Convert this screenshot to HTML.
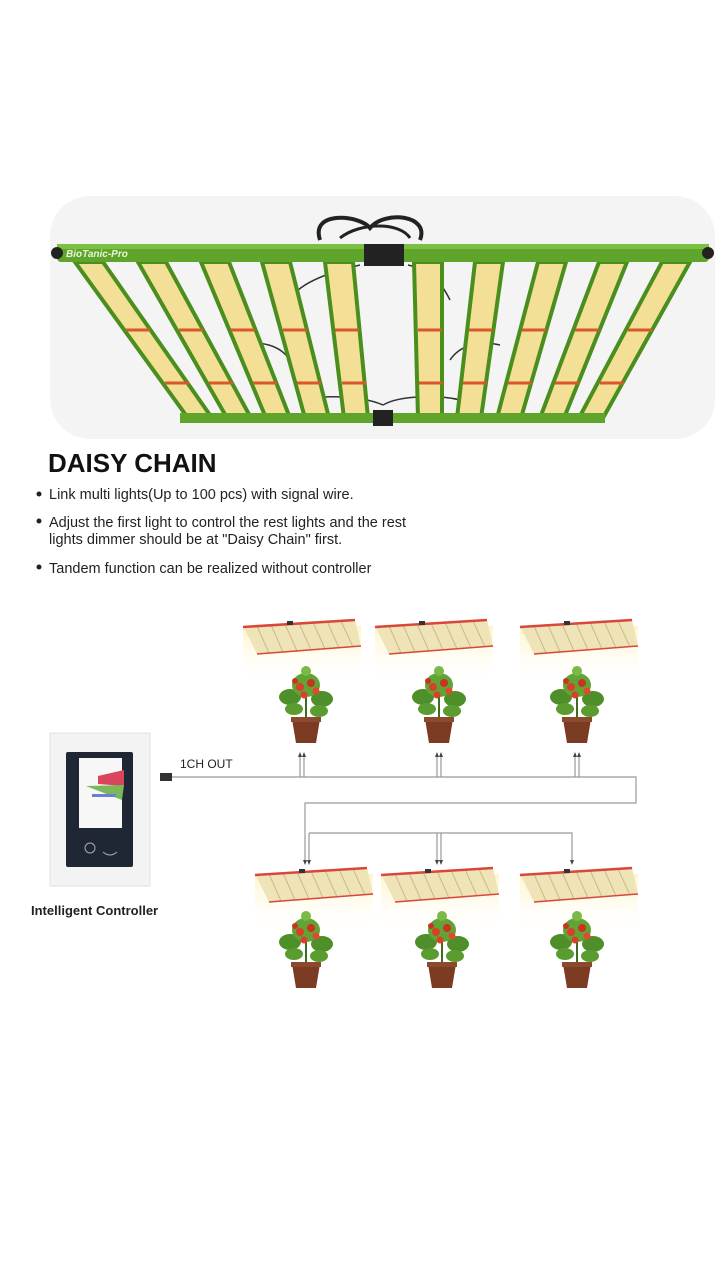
<!DOCTYPE html>
<html><head><meta charset="utf-8"><style>
body{margin:0;background:#fff;width:720px;height:1280px;overflow:hidden;font-family:"Liberation Sans",sans-serif}
svg{position:absolute;left:0;top:0}
</style></head><body>
<svg width="720" height="1280" viewBox="0 0 720 1280">
<defs>
<linearGradient id="glow" x1="0" y1="0" x2="0" y2="1"><stop offset="0" stop-color="#fff4c8"/><stop offset="1" stop-color="#fff" stop-opacity="0"/></linearGradient>
<g id="minilight">
<rect x="0" y="8" width="118" height="60" fill="url(#glow)"/>
<polygon points="0,8 112,2 118,28 14,36" fill="#efe3b8"/>
<g stroke="#c9b98a" stroke-width="1">
<line x1="14" y1="8" x2="26" y2="35"/><line x1="28" y1="7" x2="40" y2="34"/><line x1="42" y1="6" x2="54" y2="33"/><line x1="56" y1="5" x2="68" y2="32"/><line x1="70" y1="4" x2="82" y2="31"/><line x1="84" y1="3" x2="96" y2="30"/><line x1="98" y1="3" x2="110" y2="29"/></g>
<line x1="0" y1="9" x2="112" y2="2" stroke="#d9463a" stroke-width="2.5"/>
<line x1="14" y1="36" x2="118" y2="28" stroke="#d9463a" stroke-width="1.5"/>
<rect x="44" y="3" width="6" height="4" fill="#333"/>
</g>
<g id="plant">
<polygon points="-14,44 14,44 10,68 -10,68" fill="#7a3b22"/>
<rect x="-15" y="42" width="30" height="5" fill="#8b4a2b"/>
<line x1="0" y1="42" x2="0" y2="20" stroke="#3d6b1f" stroke-width="2"/>
<ellipse cx="-16" cy="22" rx="11" ry="8" fill="#4f8f2a"/>
<ellipse cx="16" cy="24" rx="11" ry="8" fill="#4f8f2a"/>
<ellipse cx="-12" cy="34" rx="9" ry="6" fill="#5b9c30"/>
<ellipse cx="13" cy="36" rx="9" ry="6" fill="#5b9c30"/>
<ellipse cx="0" cy="10" rx="14" ry="12" fill="#62a336"/>
<circle cx="-6" cy="12" r="4" fill="#d9402a"/><circle cx="5" cy="8" r="4" fill="#c93420"/>
<circle cx="10" cy="16" r="3.5" fill="#e04a2c"/><circle cx="-2" cy="20" r="3.5" fill="#d9402a"/>
<circle cx="-11" cy="6" r="3" fill="#c93420"/>
<ellipse cx="0" cy="-4" rx="5" ry="5" fill="#7ab848"/>
</g>
</defs>

<!-- top product image -->
<rect x="50" y="196" width="665" height="243" rx="40" fill="#f4f4f4"/>
<path d="M320 240 C310 210 360 215 370 228 C385 210 430 215 420 240" fill="none" stroke="#222" stroke-width="4"/>
<path d="M340 238 C360 222 400 222 410 238" fill="none" stroke="#222" stroke-width="3"/>
<g stroke="#333" stroke-width="1.5" fill="none">
<path d="M360 265 C340 270 300 280 290 300"/><path d="M408 265 C430 270 440 280 450 300"/>
<path d="M240 345 C260 340 280 345 290 360"/><path d="M500 345 C480 340 460 345 450 360"/>
<path d="M300 400 C320 395 360 395 383 405"/><path d="M460 400 C440 395 400 395 383 405"/>
</g>
<g fill="#f3df96" stroke="#4a8f1e" stroke-width="4">
<polygon points="75,262 103,262 212,418 188,418"/>
<polygon points="138,262 166,262 251,418 227,418"/>
<polygon points="201,262 229,262 290,418 266,418"/>
<polygon points="262,262 290,262 329,418 305,418"/>
<polygon points="325,262 353,262 368,418 344,418"/>
<polygon points="414,262 442,262 442,418 418,418"/>
<polygon points="475,262 503,262 481,418 457,418"/>
<polygon points="538,262 566,262 521,418 497,418"/>
<polygon points="599,262 627,262 564,418 540,418"/>
<polygon points="662,262 690,262 603,418 579,418"/>
</g>
<g stroke="#d9582a" stroke-width="3">
<line x1="126" y1="330" x2="150" y2="330"/><line x1="179" y1="330" x2="203" y2="330"/><line x1="231" y1="330" x2="255" y2="330"/><line x1="283" y1="330" x2="307" y2="330"/><line x1="335" y1="330" x2="359" y2="330"/>
<line x1="418" y1="330" x2="442" y2="330"/><line x1="469" y1="330" x2="493" y2="330"/><line x1="522" y1="330" x2="546" y2="330"/><line x1="575" y1="330" x2="599" y2="330"/><line x1="628" y1="330" x2="652" y2="330"/>
<line x1="165" y1="383" x2="189" y2="383"/><line x1="209" y1="383" x2="233" y2="383"/><line x1="253" y1="383" x2="277" y2="383"/><line x1="297" y1="383" x2="321" y2="383"/><line x1="342" y1="383" x2="366" y2="383"/>
<line x1="419" y1="383" x2="443" y2="383"/><line x1="463" y1="383" x2="487" y2="383"/><line x1="508" y1="383" x2="532" y2="383"/><line x1="555" y1="383" x2="579" y2="383"/><line x1="600" y1="383" x2="624" y2="383"/>
</g>
<rect x="57" y="244" width="652" height="18" rx="4" fill="#5fa52b"/>
<rect x="57" y="244" width="652" height="5" fill="#7cc043"/>
<circle cx="57" cy="253" r="6" fill="#222"/><circle cx="708" cy="253" r="6" fill="#222"/>
<text x="66" y="257" font-size="10" font-style="italic" font-weight="bold" fill="#e8f5d8">BioTanic-Pro</text>
<rect x="180" y="413" width="425" height="10" fill="#5fa52b"/>
<rect x="364" y="244" width="40" height="22" fill="#222"/>
<rect x="373" y="410" width="20" height="16" fill="#222"/>

<!-- heading & bullets -->
<text x="48" y="472" font-size="26" font-weight="bold" fill="#111">DAISY CHAIN</text>
<g font-size="14.5" fill="#222">
<circle cx="39" cy="494" r="2.5" fill="#222"/><text x="49" y="499">Link multi lights(Up to 100 pcs) with signal wire.</text>
<circle cx="39" cy="521" r="2.5" fill="#222"/><text x="49" y="527">Adjust the first light to control the rest lights and the rest</text>
<text x="49" y="544">lights dimmer should be at "Daisy Chain" first.</text>
<circle cx="39" cy="567" r="2.5" fill="#222"/><text x="49" y="573">Tandem function can be realized without controller</text>
</g>

<!-- diagram lights & plants -->
<use href="#minilight" x="243" y="618"/>
<use href="#minilight" x="375" y="618"/>
<use href="#minilight" x="520" y="618"/>
<use href="#plant" x="306" y="675"/>
<use href="#plant" x="439" y="675"/>
<use href="#plant" x="577" y="675"/>
<use href="#minilight" x="255" y="866"/>
<use href="#minilight" x="381" y="866"/>
<use href="#minilight" x="520" y="866"/>
<use href="#plant" x="306" y="920"/>
<use href="#plant" x="442" y="920"/>
<use href="#plant" x="577" y="920"/>

<!-- controller -->
<rect x="50" y="733" width="100" height="153" fill="#f3f3f3" stroke="#e2e2e2"/>
<rect x="66" y="752" width="67" height="115" rx="2" fill="#1e2733"/>
<rect x="79" y="758" width="43" height="70" fill="#f7f7f7"/>
<polygon points="98,776 124,770 124,786 98,784" fill="#d9455a"/>
<polygon points="86,786 124,785 122,800" fill="#7ab85a"/>
<rect x="92" y="794" width="24" height="3" fill="#6a7fd0"/>
<circle cx="90" cy="848" r="5" fill="none" stroke="#aab" /><path d="M103 852 q7 6 14 0" stroke="#aab" fill="none"/>
<rect x="160" y="773" width="12" height="8" fill="#333"/>
<text x="180" y="768" font-size="12" fill="#222">1CH OUT</text>
<text x="31" y="915" font-size="13" font-weight="bold" fill="#222">Intelligent Controller</text>

<!-- connectors -->
<g stroke="#999" stroke-width="1.2" fill="none">
<path d="M172 777 H636 V803 H305 V862"/>
<line x1="300" y1="777" x2="300" y2="754"/><line x1="304" y1="777" x2="304" y2="754"/>
<line x1="437" y1="777" x2="437" y2="754"/><line x1="441" y1="777" x2="441" y2="754"/>
<line x1="575" y1="777" x2="575" y2="754"/><line x1="579" y1="777" x2="579" y2="754"/>
<path d="M309 833 H572 V862"/><line x1="309" y1="833" x2="309" y2="862"/>
<line x1="437" y1="833" x2="437" y2="862"/><line x1="441" y1="833" x2="441" y2="862"/>
</g>
<g fill="#444">
<polygon points="298,757 302,757 300,752"/><polygon points="302,757 306,757 304,752"/>
<polygon points="435,757 439,757 437,752"/><polygon points="439,757 443,757 441,752"/>
<polygon points="573,757 577,757 575,752"/><polygon points="577,757 581,757 579,752"/>
<polygon points="303,860 307,860 305,865"/><polygon points="307,860 311,860 309,865"/>
<polygon points="435,860 439,860 437,865"/><polygon points="439,860 443,860 441,865"/>
<polygon points="570,860 574,860 572,865"/>
</g>
</svg>
</body></html>
